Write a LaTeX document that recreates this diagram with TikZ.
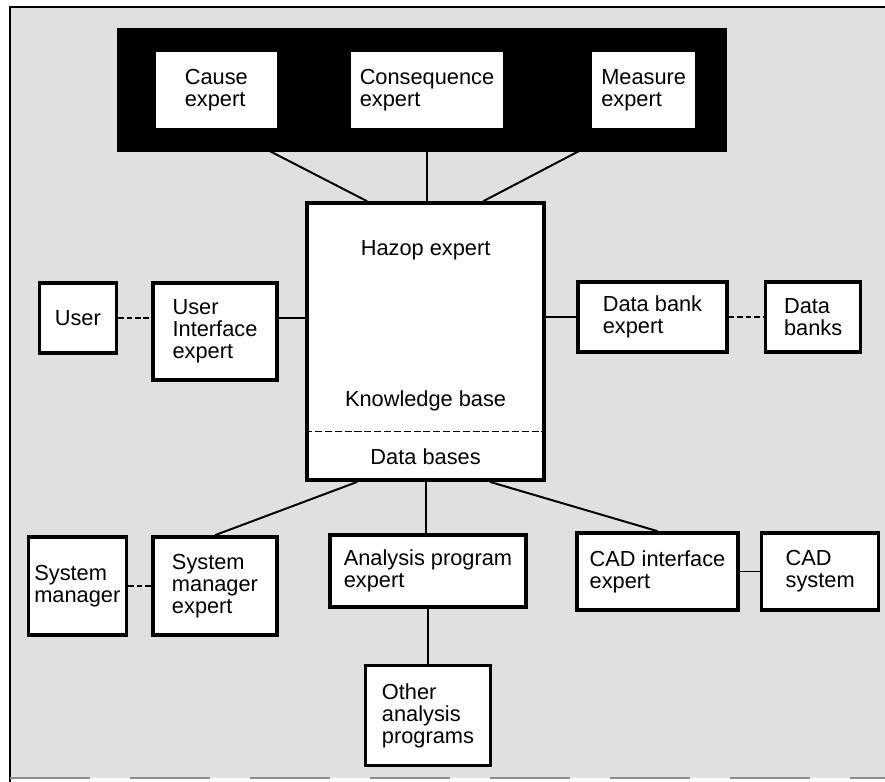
\documentclass[tikz,border=0pt]{standalone}
\usepackage{fontspec}
\setmainfont{Liberation Sans}
\usetikzlibrary{positioning}
\newcommand{\hzfont}{\fontsize{15.5}{15.5}\selectfont}

\tikzset{
  box/.style={draw, line width=2.6pt, fill=white, inner sep=0pt, align=left, font=\hzfont},
  link/.style={line width=1.4pt},
  dlink/.style={line width=1.4pt, dash pattern=on 4pt off 2pt},
}

\begin{document}
\begin{tikzpicture}
        \useasboundingbox (0,0) rectangle (22.125,-19.55);
        \fill[black!12] (0.25,-0.175) rectangle (22.125,-19.45);
        \draw[line width=2pt] (0.25,-19.55) -- (0.25,-0.175) -- (22.125,-0.175);
        \draw[black!45, line width=0.8pt, dash pattern=on 2cm off 1cm] (0.25,-19.45) -- (22.125,-19.45);
        \fill[black] (2.925,-0.7) rectangle (18.175,-3.8);

        \node[box, minimum width=3.9cm, minimum height=2cm] (conseq) at (10.675,-2.25) {Consequence\\expert};
        \node[box, minimum width=3.1cm, minimum height=2cm, left=1.675cm of conseq] (cause) {Cause\\expert};
        \node[box, minimum width=2.65cm, minimum height=2cm, right=2.05cm of conseq] (measure) {Measure\\expert};

        \node[box, minimum width=5.925cm, minimum height=6.925cm] (hazop) at (10.64,-8.54) {};
        \node[font=\hzfont] (hztitle) at ([yshift=-1.225cm]hazop.north) {Hazop expert};
        \node[font=\hzfont] (kb) at ([yshift=-5cm]hazop.north) {Knowledge base};
        \node[font=\hzfont] (db) at ([yshift=-6.375cm]hazop.north) {Data bases};
        \draw[line width=1pt, dash pattern=on 5pt off 2pt] ([yshift=-5.75cm]hazop.north west) -- ([yshift=-5.75cm]hazop.north east);

        \node[box, minimum width=3.1cm, minimum height=2.425cm] (ui) at (5.375,-8.2875) {User\\Interface\\expert};
        \node[box, minimum width=1.925cm, minimum height=1.75cm, left=0.825cm of ui.north west, anchor=north east] (user) {User};
        \node[box, minimum width=3.725cm, minimum height=1.75cm] (databank) at (16.3125,-7.925) {Data bank\\expert};
        \node[box, minimum width=2.375cm, minimum height=1.75cm, right=0.875cm of databank] (databanks) {Data\\banks};

        \node[box, minimum width=3.1cm, minimum height=2.45cm] (smexpert) at (5.375,-14.65) {System\\manager\\expert};
        \node[box, minimum width=2.45cm, minimum height=2.45cm, left=0.575cm of smexpert] (sysman) {System\\manager};
        \node[box, minimum width=4.9cm, minimum height=1.8cm] (analysis) at (10.7,-14.275) {Analysis program\\expert};
        \node[box, minimum width=3.125cm, minimum height=2.5cm, below=1.375cm of analysis] (other) {Other\\analysis\\programs};
        \node[box, minimum width=4.025cm, minimum height=1.925cm] (cadif) at (16.4375,-14.2875) {CAD interface\\expert};
        \node[box, minimum width=2.925cm, minimum height=1.925cm, right=0.5cm of cadif] (cadsys) {CAD\\system};

        \draw[link] ([xshift=0.4cm]cause.south) -- ([xshift=-1.46cm]hazop.north);
        \draw[link] (conseq.south) -- (conseq.south |- hazop.north);
        \draw[link] ([xshift=-0.7cm]measure.south) -- ([xshift=1.44cm]hazop.north);
        \draw[dlink] (user.east) -- (user.east -| ui.west);
        \draw[link] (user.east -| ui.east) -- (user.east -| hazop.west);
        \draw[link] (databank.west -| hazop.east) -- (databank.west);
        \draw[dlink] (databank.east) -- (databanks.west);
        \draw[link] ([xshift=-1.71cm]hazop.south) -- (smexpert.north);
        \draw[link] (hazop.south) -- (hazop.south |- analysis.north);
        \draw[link] ([xshift=1.61cm]hazop.south) -- (cadif.north);
        \draw[dlink] (sysman.east) -- (smexpert.west);
        \draw[link] (cadif.east) -- (cadsys.west);
        \draw[link] (analysis.south) -- (other.north);
      \end{tikzpicture}
\end{document}
